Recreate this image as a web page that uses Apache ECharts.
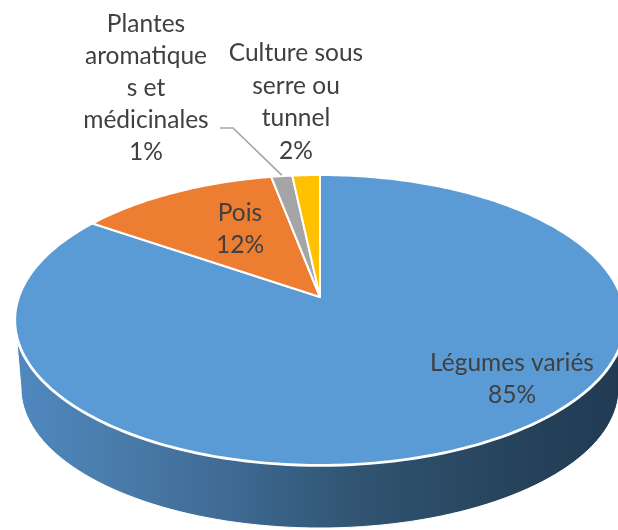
<!DOCTYPE html>
<html><head><meta charset="utf-8">
<style>html,body{margin:0;padding:0;background:#fff;overflow:hidden}#c{width:618px;height:530px}</style>
<script src="https://cdn.jsdelivr.net/npm/echarts@6/dist/echarts.min.js"></script>
</head><body><div id="c"></div>
<script>
// Data
const categories = ['Légumes variés', 'Pois', 'Plantes aromatiques et médicinales', 'Culture sous serre ou tunnel'];
const values = [84.6, 12.4, 1.3, 1.7];
const shownPercent = ['85%', '12%', '1%', '2%'];
const labelLines = [
  ['Légumes variés'],
  ['Pois'],
  ['Plantes', 'aromatique', 's et', 'médicinales'],
  ['Culture sous', 'serre ou', 'tunnel']
];
const sliceColors = ['#5b9bd5', '#ed7d31', '#a5a5a5', '#ffc000'];

// Layout
const labelCenterX = [512, 240, 146, 296];
const labelLastLineY = [395, 245, 152, 151];
const lineHeight = [32, 32, 32, 32.7];
const apex = { x: 320, y: 297 };
const top_ = { cx: 320, cy: 320, rx: 305, ry: 145 };
const bottom_ = { cx: 320, cy: 388, rx: 299, ry: 140 };
const tilt = 0.1586, planeX = 301, planeY = 141.35;

const total = values.reduce((a, b) => a + b, 0);
function project(frac) {
  const a = frac * 2 * Math.PI;
  const px = Math.sin(a), py = Math.cos(a);
  const w = 1 + tilt * py;
  return [apex.x + planeX * px / w, apex.y - planeY * py / w];
}
function ellipsePts(e, from, to, n) {
  const p = [];
  for (let i = 0; i <= n; i++) {
    const t = from + (to - from) * i / n;
    p.push([e.cx + e.rx * Math.cos(t), e.cy + e.ry * Math.sin(t)]);
  }
  return p;
}
function slicePts(i) {
  let start = 0;
  for (let k = 0; k < i; k++) start += values[k] / total;
  const span = values[i] / total;
  const n = Math.max(4, Math.round(span * 360));
  const pts = [[apex.x, apex.y]];
  for (let k = 0; k <= n; k++) pts.push(project(start + span * k / n));
  return pts;
}
function renderItem(params, api) {
  const i = params.dataIndex;
  const children = [];
  if (i === 0) {
    const wall = ellipsePts(top_, 0, Math.PI, 90).concat(ellipsePts(bottom_, Math.PI, 0, 90));
    children.push({
      type: 'polygon', shape: { points: wall },
      style: {
        stroke: '#fff', lineWidth: 1,
        fill: new echarts.graphic.LinearGradient(0, 0, 1, 0, [
          { offset: 0, color: '#4f88c0' },
          { offset: 0.15, color: '#4b7dac' },
          { offset: 0.35, color: '#3f6a94' },
          { offset: 0.55, color: '#315573' },
          { offset: 0.75, color: '#294760' },
          { offset: 1, color: '#203a52' }
        ])
      }
    });
    children.push({
      type: 'polygon', shape: { points: ellipsePts(top_, 0, 2 * Math.PI, 180) },
      style: { fill: sliceColors[0], stroke: '#fff', lineWidth: 3.5 }
    });
  }
  children.push({
    type: 'polygon', shape: { points: slicePts(i) },
    style: { fill: sliceColors[i], stroke: '#fff', lineWidth: 2, lineJoin: 'round' }
  });
  return { type: 'group', children };
}
function renderText(params) {
  const i = params.dataIndex;
  const children = [];
  if (i === 2) {
    let start = (values[0] + values[1] + values[2] / 2) / total;
    const end = project(start);
    children.push({
      type: 'polyline',
      shape: { points: [[220, 128], [233, 128], [end[0], end[1] - 1]] },
      style: { stroke: '#a5a5a5', lineWidth: 1.6, fill: null }
    });
  }
  const lines = labelLines[i].concat([shownPercent[i]]);
  lines.forEach((t, k) => {
    children.push({
      type: 'text',
      style: {
        x: labelCenterX[i],
        y: labelLastLineY[i] - (lines.length - 1 - k) * lineHeight[i],
        text: t, fill: '#404040', font: '24.5px Lato, "Open Sans", sans-serif',
        align: 'center', verticalAlign: 'middle'
      }
    });
  });
  return { type: 'group', children };
}
const chart = echarts.init(document.getElementById('c'), null, { renderer: 'canvas' });
chart.setOption({
  animation: false,
  backgroundColor: '#ffffff',
  series: [
    { type: 'custom', coordinateSystem: 'none', silent: true, z: 1, renderItem,
      data: categories.map((c, i) => ({ name: c, value: values[i] })) },
    { type: 'custom', coordinateSystem: 'none', silent: true, z: 2, renderItem: renderText,
      data: categories.map((c, i) => ({ name: c, value: values[i] })) }
  ]
});
</script></body></html>
